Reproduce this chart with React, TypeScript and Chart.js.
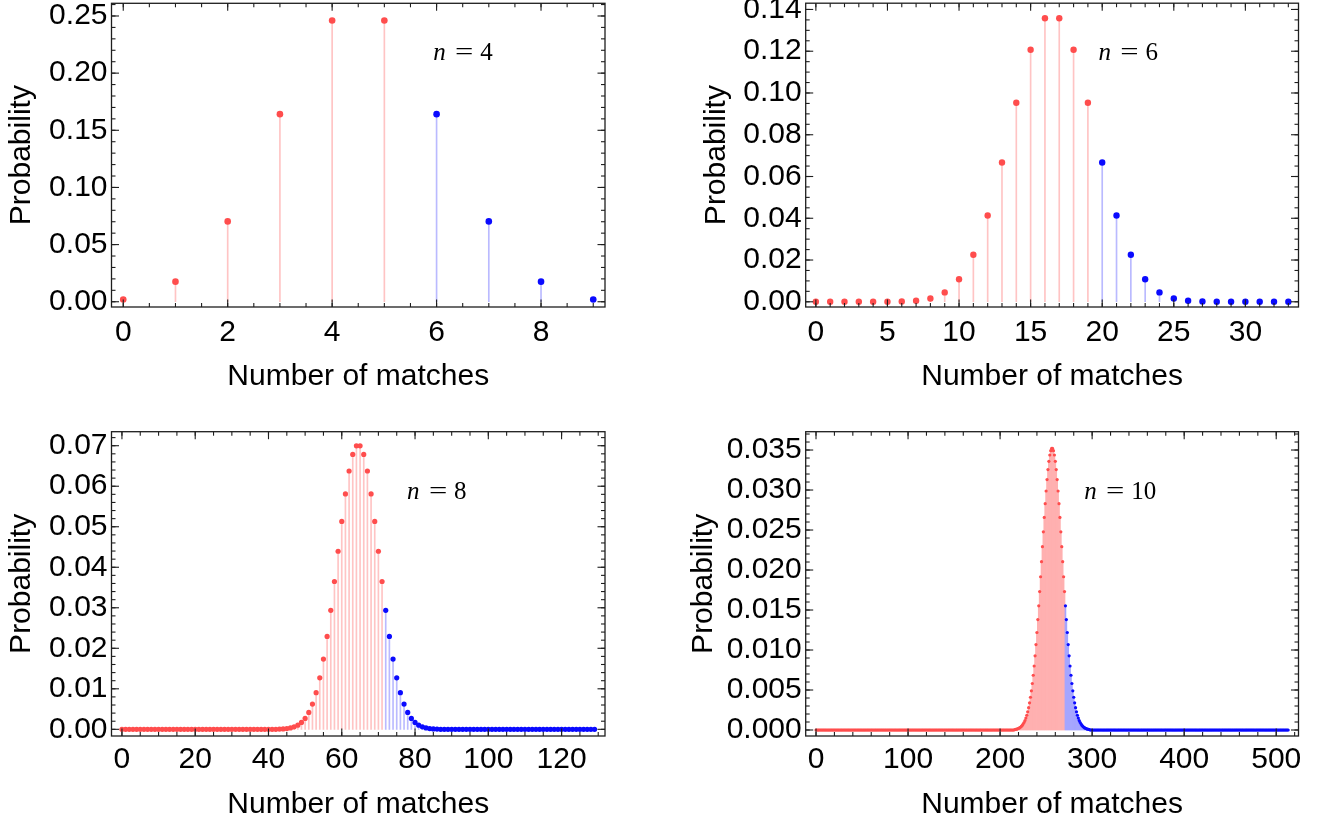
import React, { useEffect, useRef } from "react";
import { Chart, registerables } from "chart.js";

Chart.register(...registerables);

// ---------------- data ----------------
// n = 4 : number of matches 0..9
const N4_LAST = 9;
const N4_FIRST = 0;
const N4_PROB = [0.002, 0.0176, 0.0703, 0.1641, 0.2461, 0.2461, 0.1641, 0.0703, 0.0176, 0.002];
const N4_BLUE_FROM = 6;
const N4_X_TICKS = [0, 2, 4, 6, 8];
const N4_Y_TICKS = [0, 0.05, 0.1, 0.15, 0.2, 0.25];

// n = 6 : number of matches 0..33
const N6_LAST = 33;
const N6_FIRST = 0;
const N6_PROB = [
  0, 0, 0, 0, 0.000005, 0.00003, 0.00013, 0.0005, 0.0016, 0.0045, 0.0108, 0.0225, 0.0413, 0.0667,
  0.0953, 0.1207, 0.1358, 0.1358, 0.1207, 0.0953, 0.0667, 0.0413, 0.0225, 0.0108, 0.0045, 0.0016,
  0.0005, 0.00013, 0.00003, 0.000005, 0, 0, 0, 0,
];
const N6_BLUE_FROM = 20;
const N6_X_TICKS = [0, 5, 10, 15, 20, 25, 30];
const N6_Y_TICKS = [0, 0.02, 0.04, 0.06, 0.08, 0.1, 0.12, 0.14];

// n = 8 : number of matches 0..129 (values outside 43..86 read as 0)
const N8_LAST = 129;
const N8_FIRST = 43;
const N8_PROB = [
  0.00005, 0.0001, 0.00019, 0.00035, 0.00061, 0.00103, 0.00169, 0.0027, 0.00417, 0.00623, 0.00904,
  0.01271, 0.01734, 0.02292, 0.02937, 0.03649, 0.04395, 0.05132, 0.0581, 0.06376, 0.06784, 0.06998,
  0.06998, 0.06784, 0.06376, 0.0581, 0.05132, 0.04395, 0.03649, 0.02937, 0.02292, 0.01734, 0.01271,
  0.00904, 0.00623, 0.00417, 0.0027, 0.00169, 0.00103, 0.00061, 0.00035, 0.00019, 0.0001, 0.00005,
];
const N8_BLUE_FROM = 72;
const N8_X_TICKS = [0, 20, 40, 60, 80, 100, 120];
const N8_Y_TICKS = [0, 0.01, 0.02, 0.03, 0.04, 0.05, 0.06, 0.07];

// n = 10 : number of matches 0..513 (values outside 216..297 read as 0)
const N10_LAST = 513;
const N10_FIRST = 216;
const N10_PROB = [
  0.000059, 0.00008, 0.000109, 0.000147, 0.000196, 0.000259, 0.00034, 0.000443, 0.000573, 0.000736,
  0.000937, 0.001184, 0.001485, 0.001847, 0.002279, 0.002792, 0.003393, 0.004091, 0.004895, 0.00581,
  0.006844, 0.007999, 0.009277, 0.010675, 0.012188, 0.013807, 0.01552, 0.01731, 0.019157, 0.021036,
  0.022919, 0.024778, 0.026579, 0.02829, 0.029877, 0.031308, 0.032553, 0.033584, 0.034379, 0.034919,
  0.035193,
  0.035193, 0.034919, 0.034379, 0.033584, 0.032553, 0.031308, 0.029877, 0.02829, 0.026579, 0.024778,
  0.022919, 0.021036, 0.019157, 0.01731, 0.01552, 0.013807, 0.012188, 0.010675, 0.009277, 0.007999,
  0.006844, 0.00581, 0.004895, 0.004091, 0.003393, 0.002792, 0.002279, 0.001847, 0.001485, 0.001184,
  0.000937, 0.000736, 0.000573, 0.000443, 0.00034, 0.000259, 0.000196, 0.000147, 0.000109, 0.00008,
  0.000059,
];
const N10_BLUE_FROM = 271;
const N10_X_TICKS = [0, 100, 200, 300, 400, 500];
const N10_Y_TICKS = [0, 0.005, 0.01, 0.015, 0.02, 0.025, 0.03, 0.035];

// ---------------- styles ----------------
const RED_POINT = "rgb(255,77,77)";
const BLUE_POINT = "rgb(10,10,255)";
const RED_STEM_SPARSE = "rgb(255,196,196)";
const BLUE_STEM_SPARSE = "rgb(186,186,255)";
const RED_STEM_DENSE = "rgb(255,176,176)";
const BLUE_STEM_DENSE = "rgb(165,165,255)";
const FRAME = "#1e1e1e";
const SANS = '"Liberation Sans", Arial, sans-serif';
const SERIF = '"Liberation Serif", "DejaVu Serif", serif';

type Spec = {
  nText: string;
  last: number;
  first: number;
  prob: number[];
  blueFrom: number;
  xTicks: number[];
  yTicks: number[];
  xMin: number;
  xMax: number;
  yMin: number;
  yMax: number;
  xMinor: number;
  yMinor: number;
  yDec: number;
  radius: number;
  dense: boolean;
  box: { left: number; top: number; w: number; h: number };
  area: { l: number; t: number; r: number; b: number }; // page coords
  yTitlePad: number;
  xTitlePad: number;
  xTickPad: number;
  nPos: [number, number];
};

const SPECS: Spec[] = [
  {
    nText: "4", last: N4_LAST, first: N4_FIRST, prob: N4_PROB, blueFrom: N4_BLUE_FROM,
    xTicks: N4_X_TICKS, yTicks: N4_Y_TICKS,
    xMin: -0.225, xMax: 9.225, yMin: -0.0046, yMax: 0.2611, xMinor: 0.5, yMinor: 0.01, yDec: 2,
    radius: 3.3, dense: false,
    box: { left: 0, top: 0, w: 660, h: 415 },
    area: { l: 111.5, t: 3, r: 605, b: 307 },
    yTitlePad: 3.3, xTitlePad: 20.4, xTickPad: 8, nPos: [0.652, 0.1875],
  },
  {
    nText: "6", last: N6_LAST, first: N6_FIRST, prob: N6_PROB, blueFrom: N6_BLUE_FROM,
    xTicks: N6_X_TICKS, yTicks: N6_Y_TICKS,
    xMin: -0.71, xMax: 33.71, yMin: -0.0025, yMax: 0.143, xMinor: 1, yMinor: 0.005, yDec: 2,
    radius: 3.2, dense: false,
    box: { left: 660, top: 0, w: 660, h: 415 },
    area: { l: 805.7, t: 3, r: 1298.5, b: 307 },
    yTitlePad: 38.6, xTitlePad: 20.4, xTickPad: 8, nPos: [0.594, 0.1875],
  },
  {
    nText: "8", last: N8_LAST, first: N8_FIRST, prob: N8_PROB, blueFrom: N8_BLUE_FROM,
    xTicks: N8_X_TICKS, yTicks: N8_Y_TICKS,
    xMin: -2.85, xMax: 131.85, yMin: -0.00165, yMax: 0.07346, xMinor: 5, yMinor: 0.002, yDec: 2,
    radius: 2.6, dense: false,
    box: { left: 0, top: 415, w: 660, h: 410 },
    area: { l: 111.5, t: 431.7, r: 605, b: 736 },
    yTitlePad: 3.3, xTitlePad: 2.4, xTickPad: 6, nPos: [0.599, 0.221],
  },
  {
    nText: "10", last: N10_LAST, first: N10_FIRST, prob: N10_PROB, blueFrom: N10_BLUE_FROM,
    xTicks: N10_X_TICKS, yTicks: N10_Y_TICKS,
    xMin: -11.2, xMax: 524.2, yMin: -0.00075, yMax: 0.03729, xMinor: 20, yMinor: 0.001, yDec: 3,
    radius: 1.6, dense: true,
    box: { left: 660, top: 415, w: 660, h: 410 },
    area: { l: 805.7, t: 431.7, r: 1298.5, b: 736 },
    yTitlePad: 25.3, xTitlePad: 2.4, xTickPad: 6, nPos: [0.565, 0.221],
  },
];

function buildPoints(s: Spec) {
  const pts: { x: number; y: number }[] = [];
  for (let k = 0; k <= s.last; k++) {
    const i = k - s.first;
    pts.push({ x: k, y: i >= 0 && i < s.prob.length ? s.prob[i] : 0 });
  }
  return pts;
}

const frameTicksPlugin = {
  id: "frameTicks",
  afterDraw(chart: any, _args: any, opts: any) {
    const { ctx, chartArea: a, scales } = chart;
    const xs = scales.x;
    const ys = scales.y;
    const MAJ = 7.5;
    const MIN = 4;
    ctx.save();
    ctx.strokeStyle = FRAME;
    ctx.lineWidth = 1.3;
    ctx.strokeRect(a.left, a.top, a.right - a.left, a.bottom - a.top);
    ctx.lineWidth = 1.1;
    const seg = (x1: number, y1: number, x2: number, y2: number) => {
      ctx.beginPath();
      ctx.moveTo(x1, y1);
      ctx.lineTo(x2, y2);
      ctx.stroke();
    };
    const xTick = (v: number, len: number) => {
      const p = xs.getPixelForValue(v);
      seg(p, a.bottom, p, a.bottom - len);
      seg(p, a.top, p, a.top + len);
    };
    const yTick = (v: number, len: number) => {
      const p = ys.getPixelForValue(v);
      seg(a.left, p, a.left + len, p);
      seg(a.right, p, a.right - len, p);
    };
    const sx = opts.xMinor;
    for (let i = Math.ceil(xs.min / sx - 1e-9); i * sx <= xs.max + 1e-9; i++) xTick(i * sx, MIN);
    const sy = opts.yMinor;
    for (let i = Math.ceil(ys.min / sy - 1e-9); i * sy <= ys.max + 1e-9; i++) yTick(i * sy, MIN);
    (opts.xTicks as number[]).forEach((v) => xTick(v, MAJ));
    (opts.yTicks as number[]).forEach((v) => yTick(v, MAJ));

    // n label
    const x0 = a.left + opts.nPos[0] * (a.right - a.left);
    const yb = a.top + opts.nPos[1] * (a.bottom - a.top);
    ctx.fillStyle = "#000";
    ctx.textBaseline = "alphabetic";
    ctx.textAlign = "left";
    ctx.font = `italic 25px ${SERIF}`;
    ctx.fillText("n", x0, yb);
    ctx.font = `25px ${SERIF}`;
    ctx.save();
    ctx.translate(x0 + 31, yb);
    ctx.scale(1.3, 1);
    ctx.textAlign = "center";
    ctx.fillText("=", 0, 0);
    ctx.restore();
    ctx.fillText(opts.nText, x0 + 47, yb);
    ctx.restore();
  },
};

function Panel({ spec }: { spec: Spec }) {
  const ref = useRef<HTMLCanvasElement>(null);
  useEffect(() => {
    const s = spec;
    const pts = buildPoints(s);
    const pointColors = pts.map((p) => (p.x >= s.blueFrom ? BLUE_POINT : RED_POINT));
    const redStem = s.dense ? RED_STEM_DENSE : RED_STEM_SPARSE;
    const blueStem = s.dense ? BLUE_STEM_DENSE : BLUE_STEM_SPARSE;
    const stemColors = pts.map((p) => (p.x >= s.blueFrom ? blueStem : redStem));
    const padLeft = 0;
    const yAxisW = s.area.l - s.box.left - padLeft;
    const padTop = s.area.t - s.box.top;
    const padRight = s.box.left + s.box.w - s.area.r;
    const xAxisH = s.box.top + s.box.h - s.area.b;

    const chart = new Chart(ref.current as HTMLCanvasElement, {
      type: "scatter",
      data: {
        datasets: [
          {
            type: "scatter",
            data: pts,
            pointRadius: s.radius,
            pointHoverRadius: s.radius,
            pointBackgroundColor: pointColors,
            pointBorderWidth: 0,
            showLine: false,
            order: 0,
          } as any,
          {
            type: "bar",
            data: pts,
            backgroundColor: stemColors,
            borderWidth: 0,
            barThickness: 1,
            order: 1,
          } as any,
        ],
      },
      options: {
        animation: false,
        responsive: false,
        devicePixelRatio: 1,
        events: [],
        layout: { padding: { left: padLeft, top: padTop, right: padRight, bottom: 0 } },
        plugins: {
          legend: { display: false },
          tooltip: { enabled: false },
          title: { display: false },
          frameTicks: {
            xTicks: s.xTicks,
            yTicks: s.yTicks,
            xMinor: s.xMinor,
            yMinor: s.yMinor,
            nText: s.nText,
            nPos: s.nPos,
          },
        } as any,
        scales: {
          x: {
            type: "linear",
            min: s.xMin,
            max: s.xMax,
            offset: false,
            grid: { display: false, drawTicks: false, tickLength: 0 },
            border: { display: false },
            afterBuildTicks: (scale: any) => {
              scale.ticks = s.xTicks.map((v) => ({ value: v }));
            },
            afterFit: (scale: any) => {
              scale.height = xAxisH;
              scale.paddingLeft = 0;
              scale.paddingRight = 0;
            },
            ticks: {
              autoSkip: false,
              maxRotation: 0,
              minRotation: 0,
              padding: s.xTickPad,
              color: "#000",
              font: { family: SANS, size: 30 },
              callback: (v: any) => String(v),
            },
            title: {
              display: true,
              text: "Number of matches",
              color: "#000",
              font: { family: SANS, size: 30 },
              padding: { top: 0, bottom: s.xTitlePad },
            },
          },
          y: {
            type: "linear",
            min: s.yMin,
            max: s.yMax,
            grid: { display: false, drawTicks: false, tickLength: 0 },
            border: { display: false },
            afterBuildTicks: (scale: any) => {
              scale.ticks = s.yTicks.map((v) => ({ value: v }));
            },
            afterFit: (scale: any) => {
              scale.width = yAxisW;
              scale.paddingTop = 0;
              scale.paddingBottom = 0;
            },
            ticks: {
              padding: 4,
              color: "#000",
              font: { family: SANS, size: 30 },
              callback: (v: any) => Number(v).toFixed(s.yDec),
            },
            title: {
              display: true,
              text: "Probability",
              color: "#000",
              font: { family: SANS, size: 30 },
              padding: { top: s.yTitlePad, bottom: 0 },
            },
          },
        },
      },
      plugins: [frameTicksPlugin as any],
    } as any);
    return () => chart.destroy();
  }, [spec]);

  return (
    <canvas
      ref={ref}
      width={spec.box.w}
      height={spec.box.h}
      style={{
        position: "absolute",
        left: spec.box.left,
        top: spec.box.top,
        width: spec.box.w,
        height: spec.box.h,
      }}
    />
  );
}

export default function App() {
  return (
    <div
      style={{
        position: "fixed",
        left: 0,
        top: 0,
        width: 1320,
        height: 825,
        background: "#fff",
        overflow: "hidden",
      }}
    >
      {SPECS.map((s, i) => (
        <Panel key={i} spec={s} />
      ))}
    </div>
  );
}
